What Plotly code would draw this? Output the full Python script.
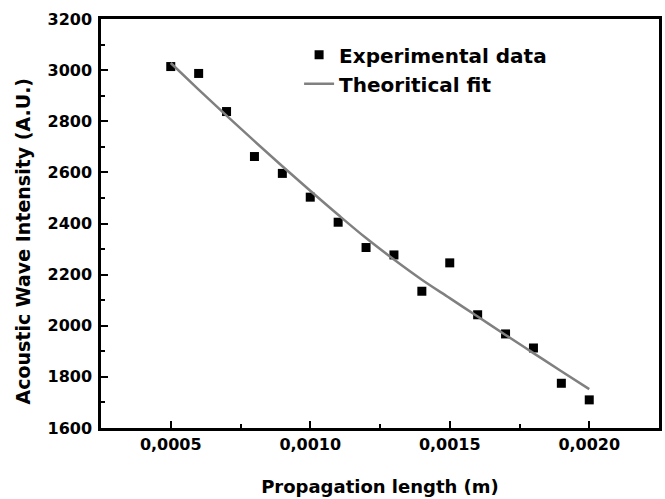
import plotly.graph_objects as go

x_exp = [0.0005, 0.0006, 0.0007, 0.0008, 0.0009, 0.0010, 0.0011, 0.0012,
         0.0013, 0.0014, 0.0015, 0.0016, 0.0017, 0.0018, 0.0019, 0.0020]
y_exp = [3014, 2987, 2838, 2662, 2596, 2503, 2405, 2306,
         2277, 2135, 2246, 2043, 1968, 1913, 1775, 1710]

x_fit = [0.0005, 0.0006, 0.0007, 0.0008, 0.0009, 0.0010, 0.0011, 0.0012,
         0.0013, 0.0014, 0.0015, 0.0016, 0.0017, 0.0018, 0.0019, 0.0020]
y_fit = [3028, 2924, 2822, 2722, 2624, 2528, 2434, 2343,
         2259, 2180, 2108, 2036, 1964, 1893, 1822, 1752]

x_ticks = [0.0005, 0.0010, 0.0015, 0.0020]
x_ticktext = ["0,0005", "0,0010", "0,0015", "0,0020"]
y_ticks = [1600, 1800, 2000, 2200, 2400, 2600, 2800, 3000, 3200]

x_title = "Propagation length (m)"
y_title = "Acoustic Wave Intensity (A.U.)"

FONT = "DejaVu Sans"

fig = go.Figure()
fig.add_trace(go.Scatter(
    x=x_exp, y=y_exp, mode="markers", name="Experimental data",
    marker=dict(symbol="square", size=9, color="black", line=dict(width=0)),
))
fig.add_trace(go.Scatter(
    x=x_fit, y=y_fit, mode="lines", name="Theoritical fit",
    line=dict(color="#808080", width=2.5, shape="spline"),
))

axis_common = dict(
    showline=True, linecolor="black", linewidth=2.5, mirror=True,
    showgrid=False, zeroline=False, ticks="inside", ticklen=7, tickwidth=2,
    tickcolor="black", automargin=False,
    tickfont=dict(family=FONT, size=16, color="black", weight="bold"),
)

fig.update_xaxes(
    range=[0.00025, 0.00225], tickvals=x_ticks, ticktext=x_ticktext,
    minor=dict(ticks="inside", ticklen=4, tickwidth=2, tickcolor="black", dtick=0.00025, tick0=0.00025),
    title=dict(text=x_title, standoff=28,
               font=dict(family=FONT, size=18, color="black", weight="bold")),
    ticklabelstandoff=0,
    **axis_common,
)
fig.update_yaxes(
    range=[1600, 3200], tickvals=y_ticks,
    minor=dict(ticks="inside", ticklen=4, tickwidth=2, tickcolor="black", dtick=100, tick0=1600),
    ticklabelstandoff=3,
    **axis_common,
)

fig.add_annotation(
    text=y_title, textangle=-90, showarrow=False,
    xref="paper", yref="paper", x=-0.14, y=0.458,
    xanchor="center", yanchor="middle",
    font=dict(family=FONT, size=19, color="black", weight="bold"),
)

fig.update_layout(
    width=665, height=499,
    margin=dict(l=101, r=6, t=19, b=71),
    paper_bgcolor="white", plot_bgcolor="white",
    showlegend=True,
    legend=dict(
        x=0.355, y=0.96, xanchor="left", yanchor="top",
        bgcolor="rgba(0,0,0,0)", borderwidth=0,
        font=dict(family=FONT, size=20, color="black", weight="bold"),
        traceorder="normal",
    ),
)

fig.write_html("out.html")
